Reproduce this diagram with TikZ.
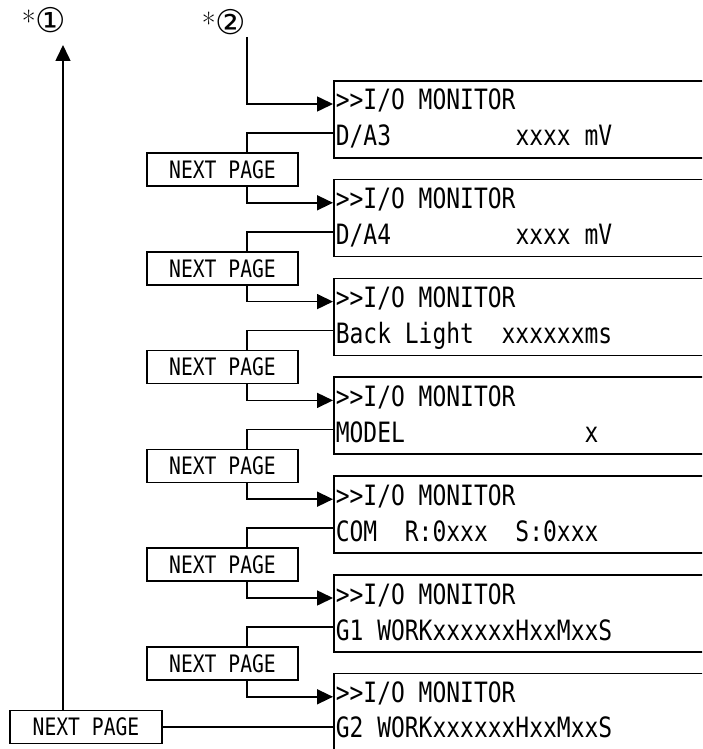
\documentclass[tikz,border=0pt]{standalone}
\usepackage{fontspec}
\usetikzlibrary{arrows.meta}
\newfontfamily\lcd[FakeStretch=0.82]{DejaVu Sans Mono}
\newfontfamily\circfont{DejaVu Sans}
\newcommand\blanks[1]{\hspace*{#1\fontcharwd\font`x}}
\begin{document}
\begin{tikzpicture}[x=1pt,y=-1pt,line width=1.6pt,
  screen/.style={draw,rectangle,minimum width=420pt,minimum height=77pt,anchor=north west,inner sep=0pt},
  lcdtext/.style={anchor=base west,inner sep=0pt,font=\lcd\fontsize{28}{30}\selectfont},
  nextbox/.style={draw,rectangle,minimum width=151pt,minimum height=33pt,inner sep=0pt,font=\lcd\fontsize{24}{26}\selectfont},
  tag/.style={anchor=west,inner sep=0pt},
  arr/.style={-{Triangle[length=16pt,width=15pt]}}
]
\useasboundingbox (0,0) rectangle (702,749);
\clip (0,0) rectangle (702,749);

% screens
\node[screen] (s1) at (333,80) {};
\node[screen] (s2) at (333,178.8) {};
\node[screen] (s3) at (333,277.6) {};
\node[screen] (s4) at (333,376.4) {};
\node[screen] (s5) at (333,475.2) {};
\node[screen] (s6) at (333,574) {};
\node[screen,minimum height=90pt] (s7) at (333,672.8) {};

% screen texts
\node[lcdtext] (t1a) at (335,110) {>{}>I/O\blanks1MONITOR};
\node[lcdtext] (t1b) at (335,146) {D/A3\blanks9xxxx\blanks1mV};
\node[lcdtext] (t2a) at (335,208.8) {>{}>I/O\blanks1MONITOR};
\node[lcdtext] (t2b) at (335,244.8) {D/A4\blanks9xxxx\blanks1mV};
\node[lcdtext] (t3a) at (335,307.6) {>{}>I/O\blanks1MONITOR};
\node[lcdtext] (t3b) at (335,343.6) {Back\blanks1Light\blanks2xxxxxxms};
\node[lcdtext] (t4a) at (335,406.4) {>{}>I/O\blanks1MONITOR};
\node[lcdtext] (t4b) at (335,442.4) {MODEL\blanks{13}x};
\node[lcdtext] (t5a) at (335,505.2) {>{}>I/O\blanks1MONITOR};
\node[lcdtext] (t5b) at (335,541.2) {COM\blanks2R:0xxx\blanks2S:0xxx};
\node[lcdtext] (t6a) at (335,604) {>{}>I/O\blanks1MONITOR};
\node[lcdtext] (t6b) at (335,640) {G1\blanks1WORKxxxxxxHxxMxxS};
\node[lcdtext] (t7a) at (335,702.8) {>{}>I/O\blanks1MONITOR};
\node[lcdtext] (t7b) at (335,737) {G2\blanks1WORKxxxxxxHxxMxxS};

% entry points on the screens
\coordinate (a1) at (333,104);
\coordinate (a2) at (333,202.8);
\coordinate (a3) at (333,301.6);
\coordinate (a4) at (333,400.4);
\coordinate (a5) at (333,499.2);
\coordinate (a6) at (333,598);
\coordinate (a7) at (333,696.8);
\coordinate (d1) at (333,133);
\coordinate (d2) at (333,231.8);
\coordinate (d3) at (333,330.6);
\coordinate (d4) at (333,429.4);
\coordinate (d5) at (333,528.2);
\coordinate (d6) at (333,627);
\coordinate (d7) at (333,727);
\coordinate (vx) at (247,0);

% NEXT PAGE boxes
\node[nextbox] (n1) at (222.5,169.5) {NEXT\blanks1PAGE};
\node[nextbox] (n2) at (222.5,268.3) {NEXT\blanks1PAGE};
\node[nextbox] (n3) at (222.5,367.1) {NEXT\blanks1PAGE};
\node[nextbox] (n4) at (222.5,465.9) {NEXT\blanks1PAGE};
\node[nextbox] (n5) at (222.5,564.7) {NEXT\blanks1PAGE};
\node[nextbox] (n6) at (222.5,663.5) {NEXT\blanks1PAGE};
\node[nextbox,minimum width=152pt] (n7) at (86,727) {NEXT\blanks1PAGE};

% labels
\node[tag] (l1) at (21,20) {{\fontsize{30}{30}\selectfont *}{\circfont\fontsize{34}{34}\selectfont ①}};
\node[tag] (l2) at (201,22) {{\fontsize{30}{30}\selectfont *}{\circfont\fontsize{34}{34}\selectfont ②}};
\coordinate (c1) at (63,45);
\coordinate (c2) at (247,37);

% connectors
\draw[arr] (c2) |- (a1);
\draw (d1) -| (n1.north -| vx);
\draw[arr] (n1.south -| vx) |- (a2);
\draw (d2) -| (n2.north -| vx);
\draw[arr] (n2.south -| vx) |- (a3);
\draw (d3) -| (n3.north -| vx);
\draw[arr] (n3.south -| vx) |- (a4);
\draw (d4) -| (n4.north -| vx);
\draw[arr] (n4.south -| vx) |- (a5);
\draw (d5) -| (n5.north -| vx);
\draw[arr] (n5.south -| vx) |- (a6);
\draw (d6) -| (n6.north -| vx);
\draw[arr] (n6.south -| vx) |- (a7);
\draw (n7.east) -- (d7);
\draw[arr] (n7.north -| c1) -- (c1);
\end{tikzpicture}
\end{document}
